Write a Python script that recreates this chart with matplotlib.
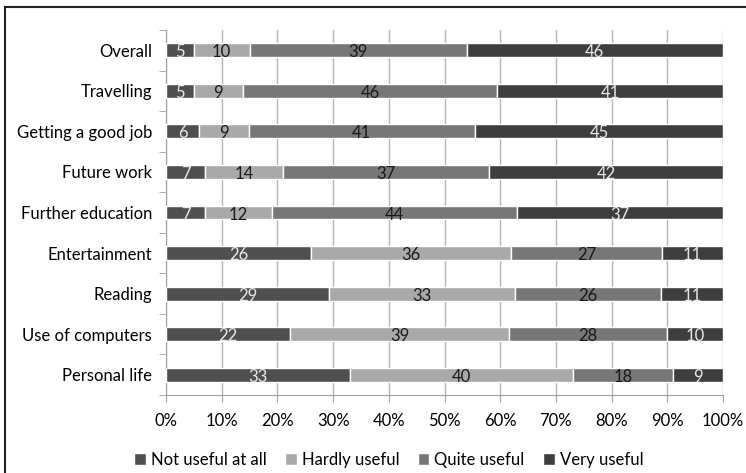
import matplotlib.pyplot as plt
import numpy as np
from matplotlib.lines import Line2D

categories = ['Overall', 'Travelling', 'Getting a good job', 'Future work',
              'Further education', 'Entertainment', 'Reading',
              'Use of computers', 'Personal life']
not_useful = [5, 5, 6, 7, 7, 26, 29, 22, 33]
hardly_useful = [10, 9, 9, 14, 12, 36, 33, 39, 40]
quite_useful = [39, 46, 41, 37, 44, 27, 26, 28, 18]
very_useful = [46, 41, 45, 42, 37, 11, 11, 10, 9]
series_names = ['Not useful at all', 'Hardly useful', 'Quite useful', 'Very useful']

colors = ['#4f4f4f', '#a9a9a9', '#777777', '#3e3e3e']
text_colors = ['#e8e8e8', '#1a1a1a', '#1a1a1a', '#e8e8e8']

plt.rcParams['font.family'] = ['Lato', 'DejaVu Sans']

data = np.array([not_useful, hardly_useful, quite_useful, very_useful], dtype=float)
share = data / data.sum(axis=0) * 100
y = np.arange(len(categories))

fig = plt.figure(figsize=(7.46, 4.73), dpi=100)
ax = fig.add_axes([166 / 746, 1 - 395 / 473, (723 - 166) / 746, (395 - 30) / 473])

left = np.zeros(len(categories))
for i, name in enumerate(series_names):
    bars = ax.barh(y, share[i], left=left, height=0.34, color=colors[i],
                   edgecolor='white', linewidth=1.0, label=name, zorder=3)
    for j, b in enumerate(bars):
        ax.text(left[j] + share[i][j] / 2, y[j] + 0.05, str(int(data[i][j])),
                ha='center', va='center', color=text_colors[i], fontsize=12, zorder=4)
    left += share[i]

ax.set_xlim(0, 100)
ax.set_ylim(len(categories) - 0.5, -0.5)
ax.set_xticks(np.arange(0, 101, 10))
ax.set_xticklabels([f'{v}%' for v in range(0, 101, 10)], fontsize=12)
ax.set_yticks(y)
ax.set_yticklabels(categories, fontsize=12)
ax.set_yticks(np.arange(-0.5, len(categories), 1), minor=True)
ax.tick_params(axis='y', which='major', length=0, pad=10)
ax.tick_params(axis='y', which='minor', length=5, color='#a0a0a0')
ax.tick_params(axis='x', length=5, color='#a0a0a0', pad=8)
ax.grid(axis='x', color='#b5b5b5', linewidth=1.0, zorder=0)
for s in ['top', 'right']:
    ax.spines[s].set_visible(False)
for s in ['left', 'bottom']:
    ax.spines[s].set_color('#a0a0a0')

ax.legend(loc='center', bbox_to_anchor=(0.40, -0.178), ncol=4, frameon=False,
          fontsize=12, handlelength=0.7, handleheight=0.7, handletextpad=0.3,
          columnspacing=1.1)

# outer border of the original chart area
fig.add_artist(Line2D([5 / 746, 5 / 746], [0, 1 - 7 / 473], color='#222222', linewidth=1.5))
fig.add_artist(Line2D([5 / 746, 1], [1 - 7 / 473, 1 - 7 / 473], color='#222222', linewidth=1.5))

fig.savefig('out.png', dpi=100)
